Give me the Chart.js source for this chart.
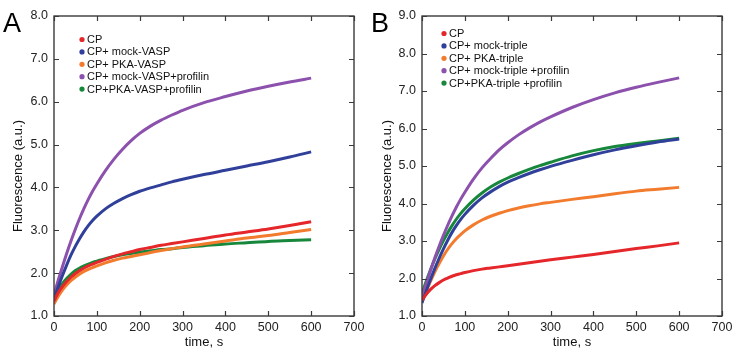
<!DOCTYPE html>
<html>
<head>
<meta charset="utf-8">
<script src="https://cdn.jsdelivr.net/npm/chart.js@4/dist/chart.umd.min.js"></script>
<style>
  html, body { margin: 0; padding: 0; background: #fff; }
  #wrap { position: relative; width: 738px; height: 352px; }
  .panel { position: absolute; top: 0; width: 369px; height: 352px; }
</style>
</head>
<body>
<div id="wrap">
  <div class="panel" style="left:0"><canvas id="chartA"></canvas></div>
  <div class="panel" style="left:369px"><canvas id="chartB"></canvas></div>
</div>
<script>
// tiempos de lectura (s)
const times = [0, 10, 20, 30, 40, 50, 60, 70, 80, 90, 100, 120, 140, 160, 180, 200, 225, 250, 275, 300, 350, 400, 450, 500, 550, 600];

// Panel A
const labelsA = ['CP', 'CP+ mock-VASP', 'CP+ PKA-VASP', 'CP+ mock-VASP+profilin', 'CP+PKA-VASP+profilin'];
const aCP       = [1.35, 1.55, 1.69, 1.81, 1.91, 1.99, 2.06, 2.12, 2.17, 2.21, 2.25, 2.32, 2.39, 2.45, 2.50, 2.55, 2.60, 2.65, 2.69, 2.73, 2.81, 2.89, 2.96, 3.03, 3.11, 3.20];
const aMock     = [1.40, 1.68, 1.95, 2.20, 2.43, 2.63, 2.81, 2.97, 3.11, 3.23, 3.33, 3.50, 3.63, 3.74, 3.83, 3.91, 3.99, 4.06, 4.13, 4.19, 4.30, 4.40, 4.50, 4.60, 4.71, 4.83];
const aPka      = [1.28, 1.46, 1.61, 1.73, 1.83, 1.91, 1.98, 2.04, 2.09, 2.13, 2.17, 2.24, 2.30, 2.35, 2.39, 2.43, 2.48, 2.53, 2.57, 2.61, 2.68, 2.75, 2.82, 2.88, 2.95, 3.02];
const aMockProf = [1.50, 1.84, 2.16, 2.47, 2.76, 3.03, 3.28, 3.51, 3.72, 3.91, 4.08, 4.39, 4.66, 4.89, 5.09, 5.26, 5.43, 5.57, 5.69, 5.80, 5.98, 6.12, 6.25, 6.36, 6.46, 6.55];
const aPkaProf  = [1.42, 1.61, 1.76, 1.88, 1.98, 2.06, 2.12, 2.17, 2.21, 2.25, 2.28, 2.34, 2.39, 2.43, 2.46, 2.49, 2.52, 2.55, 2.57, 2.60, 2.64, 2.68, 2.71, 2.74, 2.76, 2.78];

// Panel B
const labelsB = ['CP', 'CP+ mock-triple', 'CP+ PKA-triple', 'CP+ mock-triple +profilin', 'CP+PKA-triple +profilin'];
const bCP       = [1.42, 1.58, 1.71, 1.81, 1.89, 1.96, 2.01, 2.06, 2.10, 2.13, 2.16, 2.21, 2.25, 2.28, 2.31, 2.34, 2.38, 2.42, 2.46, 2.50, 2.57, 2.64, 2.72, 2.80, 2.87, 2.95];
const bMock     = [1.35, 1.67, 1.98, 2.27, 2.54, 2.79, 3.02, 3.23, 3.41, 3.57, 3.71, 3.95, 4.15, 4.31, 4.45, 4.57, 4.69, 4.80, 4.90, 4.99, 5.15, 5.30, 5.43, 5.54, 5.64, 5.72];
const bPka      = [1.40, 1.67, 1.93, 2.18, 2.40, 2.60, 2.78, 2.93, 3.06, 3.17, 3.27, 3.43, 3.56, 3.66, 3.74, 3.81, 3.88, 3.94, 3.99, 4.03, 4.11, 4.18, 4.26, 4.33, 4.38, 4.43];
const bMockProf = [1.50, 1.87, 2.22, 2.55, 2.86, 3.15, 3.42, 3.67, 3.90, 4.11, 4.30, 4.65, 4.95, 5.20, 5.43, 5.62, 5.83, 6.01, 6.17, 6.31, 6.56, 6.77, 6.95, 7.10, 7.23, 7.35];
const bPkaProf  = [1.60, 1.93, 2.24, 2.52, 2.78, 3.01, 3.22, 3.41, 3.58, 3.73, 3.86, 4.09, 4.28, 4.44, 4.57, 4.68, 4.80, 4.91, 5.01, 5.10, 5.27, 5.41, 5.52, 5.60, 5.67, 5.74];

const colores = ['#e5262a', '#30409a', '#f27b2e', '#8c50ad', '#17873b'];
const FONT = "'Liberation Sans', Arial, Helvetica, sans-serif";

function puntos(ys) {
  return ys.map((y, i) => ({ x: times[i], y: y }));
}

// marco con ticks hacia dentro + leyenda + letra del panel + titulo Y
const marcoPlugin = {
  id: 'marco',
  afterDraw(chart, args, opts) {
    const ctx = chart.ctx;
    const a = chart.chartArea;
    const xs = chart.scales.x, ys = chart.scales.y;
    ctx.save();
    ctx.strokeStyle = '#3a3a3a';
    ctx.lineWidth = 1.4;
    ctx.strokeRect(a.left, a.top, a.right - a.left, a.bottom - a.top);
    ctx.lineWidth = 1.2;
    ctx.beginPath();
    xs.ticks.forEach(t => {
      const px = Math.round(xs.getPixelForValue(t.value)) + 0.5;
      ctx.moveTo(px, a.bottom); ctx.lineTo(px, a.bottom - 5);
      ctx.moveTo(px, a.top); ctx.lineTo(px, a.top + 5);
    });
    ys.ticks.forEach(t => {
      const py = Math.round(ys.getPixelForValue(t.value)) + 0.5;
      ctx.moveTo(a.left, py); ctx.lineTo(a.left + 5, py);
      ctx.moveTo(a.right, py); ctx.lineTo(a.right - 5, py);
    });
    ctx.stroke();

    // leyenda
    ctx.font = '11px ' + FONT;
    ctx.textBaseline = 'middle';
    chart.data.datasets.forEach((ds, i) => {
      const y = a.top + opts.legTop + i * 12.4;
      ctx.fillStyle = ds.borderColor;
      ctx.beginPath();
      ctx.arc(a.left + opts.legDot, y, 2.6, 0, Math.PI * 2);
      ctx.fill();
      ctx.fillStyle = '#111';
      ctx.fillText(ds.label, a.left + opts.legDot + 5, y + 0.5);
    });

    // titulo del eje Y
    ctx.save();
    ctx.translate(18, 176);
    ctx.rotate(-Math.PI / 2);
    ctx.font = '13px ' + FONT;
    ctx.textAlign = 'center';
    ctx.textBaseline = 'middle';
    ctx.fillStyle = '#111';
    ctx.fillText('Fluorescence (a.u.)', 0, 0);
    ctx.restore();

    // letra del panel
    ctx.font = '27px ' + FONT;
    ctx.textBaseline = 'alphabetic';
    ctx.fillStyle = '#000';
    ctx.fillText(opts.letra, opts.letraX, 32);
    ctx.restore();
  }
};

function crearGrafica(id, labels, series, yMax, yWidth, padRight, opts) {
  const ctx = document.getElementById(id).getContext('2d');
  return new Chart(ctx, {
    type: 'scatter',
    data: {
      datasets: series.map((s, i) => ({
        label: labels[i],
        data: puntos(s),
        showLine: true,
        borderColor: colores[i],
        backgroundColor: colores[i],
        borderWidth: 3,
        pointRadius: 0,
        cubicInterpolationMode: 'monotone'
      }))
    },
    options: {
      responsive: false,
      animation: false,
      layout: { padding: { left: 0, right: padRight, top: 16, bottom: 0 } },
      plugins: {
        legend: { display: false },
        tooltip: { enabled: false },
        marco: opts
      },
      scales: {
        x: {
          type: 'linear',
          min: 0, max: 700,
          ticks: { stepSize: 100, color: '#222', font: { size: 12.5, family: FONT }, padding: 4, maxRotation: 0 },
          grid: { display: false, drawTicks: false },
          border: { display: false },
          title: { display: true, text: 'time, s', color: '#111', font: { size: 13, family: FONT }, padding: { top: 0, bottom: 2 } },
          afterFit: s => { s.height = 36; }
        },
        y: {
          type: 'linear',
          min: 1, max: yMax,
          ticks: { stepSize: 1, color: '#222', font: { size: 12.5, family: FONT }, padding: 6,
                   callback: v => v.toFixed(1) },
          grid: { display: false, drawTicks: false },
          border: { display: false },
          title: { display: false },
          afterFit: s => { s.width = yWidth; }
        }
      }
    },
    plugins: [marcoPlugin]
  });
}

document.getElementById('chartA').width = 369;
document.getElementById('chartA').height = 352;
document.getElementById('chartB').width = 369;
document.getElementById('chartB').height = 352;

crearGrafica('chartA', labelsA, [aCP, aMock, aPka, aMockProf, aPkaProf], 8, 54, 15,
  { legTop: 23.5, legDot: 28, letra: 'A', letraX: 3 });
crearGrafica('chartB', labelsB, [bCP, bMock, bPka, bMockProf, bPkaProf], 9, 53, 16,
  { legTop: 17.5, legDot: 22, letra: 'B', letraX: 2 });
</script>
</body>
</html>
